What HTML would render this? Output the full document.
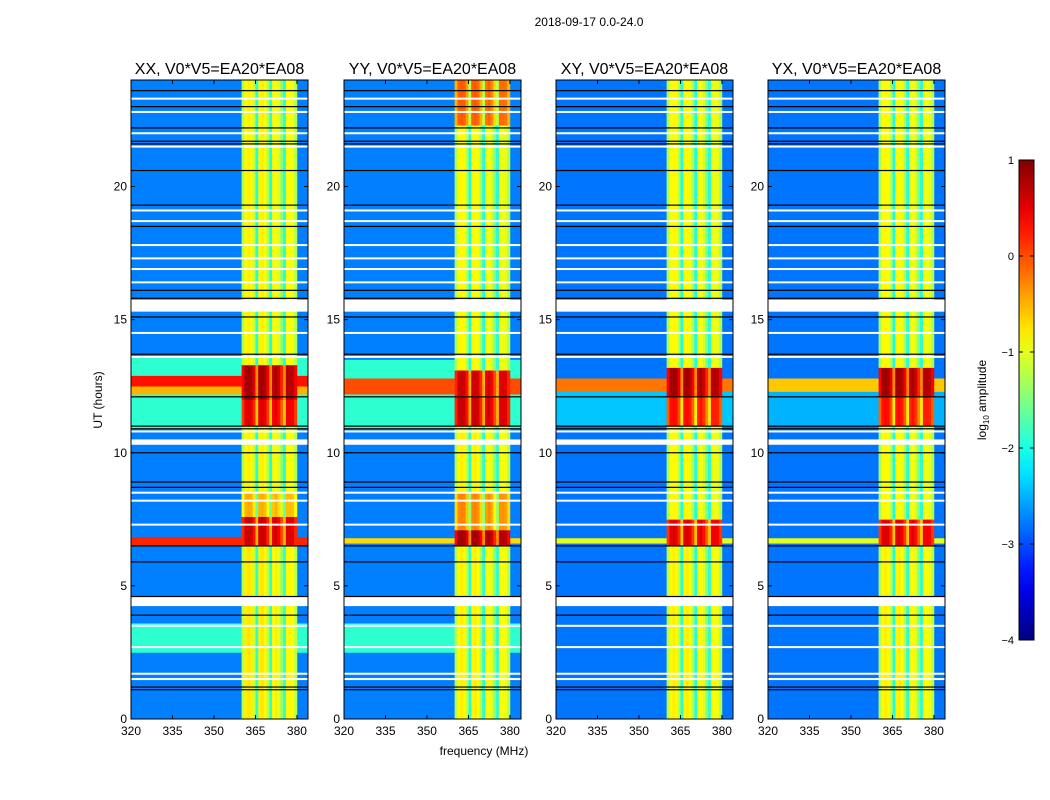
<!DOCTYPE html>
<html><head><meta charset="utf-8">
<style>
body{margin:0;background:#fff;width:1050px;height:800px;overflow:hidden;font-family:"Liberation Sans",sans-serif}
svg{display:block}
text{font-family:"Liberation Sans",sans-serif;fill:#000}
</style></head><body>
<svg id="fig" width="1050" height="800" viewBox="0 0 1050 800" xmlns="http://www.w3.org/2000/svg">
<text x="589" y="26" font-size="12" text-anchor="middle">2018-09-17 0.0-24.0</text>
<text transform="translate(102,400) rotate(-90)" font-size="12" text-anchor="middle">UT (hours)</text>
<text x="484" y="755" font-size="12" text-anchor="middle">frequency (MHz)</text>
<g id="panels"></g>
<g id="cbar"></g>
</svg>
<script>
// ---- data ----
const panelTitles = ["XX, V0*V5=EA20*EA08","YY, V0*V5=EA20*EA08","XY, V0*V5=EA20*EA08","YX, V0*V5=EA20*EA08"];
const xTicks = [320,335,350,365,380];
const yTicks = [0,5,10,15,20];
const cbTicks = [1,0,-1,-2,-3,-4];
// background (off-RFI) level segments [startHour,endHour,log10 amp]
const bgXX = [[0,2.5,-2.75],[2.5,3.6,-1.9],[3.6,6.5,-2.75],[6.5,6.85,0.2],[6.85,10.9,-2.75],[10.9,12.2,-1.9],[12.2,12.5,-0.5],[12.5,12.9,0.3],[12.9,13.6,-1.9],[13.6,24,-2.75]];
const bgYY = [[0,2.5,-2.75],[2.5,3.6,-1.9],[3.6,6.6,-2.75],[6.6,6.8,-0.7],[6.8,10.9,-2.75],[10.9,12.2,-1.9],[12.2,12.8,0.0],[12.8,13.5,-1.9],[13.5,24,-2.75]];
const bgXY = [[0,6.6,-2.8],[6.6,6.8,-1.0],[6.8,11.0,-2.8],[11.0,12.3,-2.4],[12.3,12.8,-0.2],[12.8,24,-2.8]];
const bgYX = [[0,6.6,-2.8],[6.6,6.8,-1.0],[6.8,11.0,-2.8],[11.0,12.3,-2.5],[12.3,12.8,-0.6],[12.8,24,-2.8]];
// RFI band level segments [startHour,endHour,log10 amp]
const rfiXX = [[0,6.5,-0.9],[6.5,7.6,0.5],[7.6,8.5,-0.6],[8.5,11.0,-0.95],[11.0,12.0,0.4],[12.0,13.3,0.7],[13.3,24,-0.95]];
const rfiYY = [[0,6.5,-0.95],[6.5,7.1,0.7],[7.1,8.5,-0.4],[8.5,11.0,-0.95],[11.0,13.1,0.5],[13.1,22.3,-1.0],[22.3,24,-0.2]];
const rfiXY = [[0,6.5,-0.95],[6.5,7.5,0.4],[7.5,11.0,-1.0],[11.0,12.1,0.2],[12.1,13.2,0.7],[13.2,24,-1.0]];
const rfiYX = [[0,6.5,-0.95],[6.5,7.5,0.4],[7.5,11.0,-1.0],[11.0,12.1,0.2],[12.1,13.2,0.7],[13.2,24,-1.0]];
// frequency profile offsets for 1 MHz bins from 360 to 380 MHz
const rfiFreqOffset = [-0.3,0.1,0.15,0.1,-0.2,-1.0,0.1,0.15,0.05,-0.3,-1.0,0.0,0.1,-0.1,-0.5,-1.0,0.05,0.05,0.0,-0.3];
// flagged (white) bands and black lines, hours
const flagBands = [[15.3,15.75],[10.3,10.5],[4.24,4.61]];
const whiteLines = [23.3,22.8,22.0,21.5,19.1,18.7,17.8,17.3,16.9,16.4,14.5,13.6,10.8,8.5,8.2,7.3,3.5,2.7,1.7,1.5];
const blackLines = [23.6,23.0,22.2,21.7,21.6,20.6,19.3,18.5,16.1,15.8,15.1,13.7,12.1,11.0,10.9,10.0,8.9,8.7,6.5,5.9,4.6,3.9,1.2,1.1];

const bgs=[bgXX,bgYY,bgXY,bgYX], rfis=[rfiXX,rfiYY,rfiXY,rfiYX];
const NS="http://www.w3.org/2000/svg";
function mk(tag,attrs,parent){const e=document.createElementNS(NS,tag);for(const k in attrs)e.setAttribute(k,attrs[k]);parent.appendChild(e);return e;}
function jet(v){
  let t=Math.max(0,Math.min(1,(v+4)/5));
  const r=Math.max(0,Math.min(1,1.5-Math.abs(4*t-3)));
  const g=Math.max(0,Math.min(1,1.5-Math.abs(4*t-2)));
  const b=Math.max(0,Math.min(1,1.5-Math.abs(4*t-1)));
  return `rgb(${Math.round(r*255)},${Math.round(g*255)},${Math.round(b*255)})`;
}
const panelX=[131,344,556,768], PW=177, pTop=80, pBot=719;
const fmin=320,fmax=384;
const panelsG=document.getElementById('panels');
panelX.forEach((px,pi)=>{
  const xs=f=>px+(f-fmin)/(fmax-fmin)*PW;
  const ys=h=>pBot-h/24*(pBot-pTop);
  const g=mk('g',{},panelsG);
  
  
  const t=mk('text',{x:px+PW/2,y:74,'font-size':16,'text-anchor':'middle'},g);
  t.textContent=panelTitles[pi];
  
  
  bgs[pi].forEach(s=>{
    [[fmin,360],[380,fmax]].forEach(fr=>{
      const r=mk('rect',{x:xs(fr[0]),y:ys(s[1]),width:xs(fr[1])-xs(fr[0])+0.3,height:ys(s[0])-ys(s[1])+0.3,fill:jet(s[2])},g);
      
      
    });
  });
  rfis[pi].forEach(s=>{
    rfiFreqOffset.forEach((o,ci)=>{
      const f0=360+ci;
      const r=mk('rect',{x:xs(f0),y:ys(s[1]),width:xs(f0+1)-xs(f0)+0.3,height:ys(s[0])-ys(s[1])+0.3,fill:jet(s[2]+o)},g);
      
      
    });
  });
  flagBands.forEach(b=>{
    const r=mk('rect',{x:px,y:ys(b[1]),width:PW,height:ys(b[0])-ys(b[1]),fill:'#fff'},g);
    
    
  });
  whiteLines.forEach(h=>{
    const r=mk('rect',{x:px,y:ys(h)-1,width:PW,height:2,fill:'#fff'},g);
    
    
  });
  blackLines.forEach(h=>{
    const r=mk('rect',{x:px,y:ys(h)-0.6,width:PW,height:1.2,fill:'#000'},g);
    
    
  });
  const fr=mk('rect',{x:px,y:pTop,width:PW,height:pBot-pTop,fill:'none',stroke:'#000','stroke-width':1},g);
  
  
  xTicks.forEach(v=>{
    const x=xs(v);
    mk('line',{x1:x,x2:x,y1:pBot,y2:pBot-4,stroke:'#000'},g);
    mk('line',{x1:x,x2:x,y1:pTop,y2:pTop+4,stroke:'#000'},g);
    const tl=mk('text',{x:x,y:pBot+16,'font-size':12,'text-anchor':'middle'},g);
    tl.textContent=v;
    
    
  });
  yTicks.forEach(v=>{
    const y=ys(v);
    mk('line',{x1:px,x2:px+4,y1:y,y2:y,stroke:'#000'},g);
    mk('line',{x1:px+PW,x2:px+PW-4,y1:y,y2:y,stroke:'#000'},g);
    const tl=mk('text',{x:px-4,y:y+4,'font-size':12,'text-anchor':'end'},g);
    tl.textContent=v;
    
    
  });
});
const cb=document.getElementById('cbar');


const defs=mk('defs',{},cb);
const lg=mk('linearGradient',{id:'jetg',x1:0,y1:1,x2:0,y2:0},defs);
for(let i=0;i<=20;i++){mk('stop',{offset:i/20,'stop-color':jet(-4+5*i/20)},lg);}
const cbTop=160,cbBot=640,cbX=1019,cbW=15;
mk('rect',{x:cbX,y:cbTop,width:cbW,height:cbBot-cbTop,fill:'url(#jetg)',stroke:'#000'},cb);
const cys=v=>cbBot-(v+4)/5*(cbBot-cbTop);
cbTicks.forEach(v=>{
  const y=cys(v);
  mk('line',{x1:cbX,x2:cbX+4,y1:y,y2:y,stroke:'#000'},cb);
  mk('line',{x1:cbX+cbW,x2:cbX+cbW-4,y1:y,y2:y,stroke:'#000'},cb);
  const tl=mk('text',{x:cbX-5,y:y+4,'font-size':11,'text-anchor':'end'},cb);
  tl.textContent=(v<0?'\u2212'+(-v):v);
  
  
});
const cl=mk('text',{transform:'translate(986,400) rotate(-90)','font-size':12,'text-anchor':'middle'},cb);
cl.innerHTML='log<tspan font-size="8" dy="3">10</tspan><tspan dy="-3"> amplitude</tspan>';


</script>
</body></html>
